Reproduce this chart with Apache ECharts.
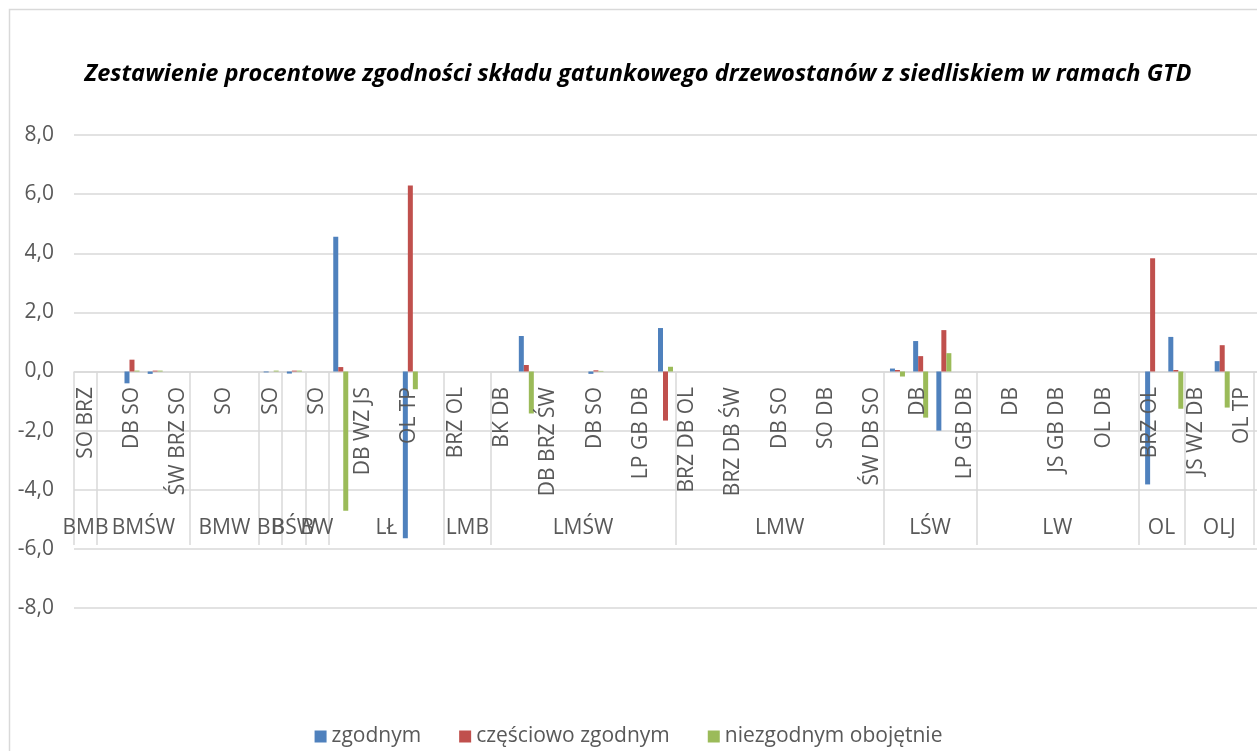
<!DOCTYPE html>
<html>
<head>
<meta charset="utf-8">
<script src="https://cdn.jsdelivr.net/npm/echarts@6/dist/echarts.min.js"></script>
<style>
  html, body { margin: 0; padding: 0; background: #fff; overflow: hidden; }
  #chart { width: 1257px; height: 751px; }
</style>
</head>
<body>
<div id="chart"></div>
<script>
// gatunki (poziom 2) - tylko co drugi opis jest widoczny na osi
const categories = [
  'SO BRZ', '', 'DB SO', '', 'ŚW BRZ SO', '', 'SO', '', 'SO', '', 'SO',
  '', 'DB WZ JS', '', 'OL TP', '', 'BRZ OL', '', 'BK DB', '', 'DB BRZ ŚW',
  '', 'DB SO', '', 'LP GB DB', '', 'BRZ DB OL', '', 'BRZ DB ŚW', '', 'DB SO',
  '', 'SO DB', '', 'ŚW DB SO', '', 'DB', '', 'LP GB DB', '', 'DB',
  '', 'JS GB DB', '', 'OL DB', '', 'BRZ OL', '', 'JS WZ DB', '', 'OL TP'
]

// typy siedliskowe (poziom 1) i liczba kategorii w każdym
const groups = ['BMB', 'BMŚW', 'BMW', 'BB', 'BŚW', 'BW', 'LŁ', 'LMB', 'LMŚW', 'LMW', 'LŚW', 'LW', 'OL', 'OLJ']
const groupSizes = [1, 4, 3, 1, 1, 1, 5, 2, 8, 9, 4, 7, 2, 3]

const seriesNames = ['zgodnym', 'częściowo zgodnym', 'niezgodnym obojętnie']

const zgodnym = [
  0, 0, -0.4, -0.08, 0, 0, 0, 0, -0.03, -0.07, 0,
  4.56, 0, 0, -5.64, 0, 0, 0, 0, 1.2, 0,
  0, -0.08, 0, 0, 1.47, 0, 0, 0, 0, 0,
  0, 0, 0, 0, 0.1, 1.03, -2.0, 0, 0, 0,
  0, 0, 0, 0, 0, -3.82, 1.17, 0, 0.35, 0
]
const czesciowo = [
  0, 0, 0.4, 0.03, 0, 0, 0, 0, 0, 0.03, 0,
  0.15, 0, 0, 6.29, 0, 0, 0, 0, 0.22, 0,
  0, 0.04, 0, 0, -1.66, 0, 0, 0, 0, 0,
  0, 0, 0, 0, 0.05, 0.52, 1.4, 0, 0, 0,
  0, 0, 0, 0, 0, 3.83, 0.05, 0, 0.89, 0
]
const niezgodnym = [
  0, 0, 0.03, 0.03, 0, 0, 0, 0, 0.03, 0.03, 0,
  -4.71, 0, 0, -0.6, 0, 0, 0, 0, -1.42, 0,
  0, 0.02, 0, 0, 0.16, 0, 0, 0, 0, 0,
  0, 0, 0, 0, -0.17, -1.56, 0.62, 0, 0, 0,
  0, 0, 0, 0, 0, 0, -1.26, 0, -1.22, 0
]

const colors = ['#4F81BD', '#C0504D', '#9BBB59']
const font = "'Open Sans', sans-serif"

// oś grup: pozycje co pół kategorii, granice grup jako kreski
const slots = new Array(categories.length * 2 + 1).fill('')
const boundaries = new Set([0])
let pos = 0
groups.forEach((g, i) => {
  slots[pos * 2 + groupSizes[i]] = g
  pos += groupSizes[i]
  boundaries.add(pos * 2)
})

const chart = echarts.init(document.getElementById('chart'))

chart.setOption({
  animation: false,
  backgroundColor: '#fff',
  color: colors,
  title: {
    text: 'Zestawienie procentowe zgodności składu gatunkowego drzewostanów z siedliskiem w ramach GTD',
    left: 633,
    top: 57,
    textAlign: 'center',
    textStyle: { fontFamily: font, fontSize: 23.6, fontWeight: 'bold', fontStyle: 'italic', color: '#000' },
  },
  legend: {
    data: seriesNames,
    left: 'center',
    top: 721,
    icon: 'rect',
    itemWidth: 12,
    itemHeight: 12,
    itemGap: 38,
    textStyle: { fontFamily: font, fontSize: 21, color: '#595959' },
  },
  grid: [
    { left: 74, top: 135, width: 1188, height: 473 },
    // obszar opisów kategorii pod linią zera
    { left: 74, top: 372, width: 1188, height: 173 },
  ],
  xAxis: [
    {
      type: 'category',
      data: categories,
      gridIndex: 0,
      axisLine: { show: true, onZero: true, lineStyle: { color: '#d9d9d9', width: 1.5 } },
      axisTick: { show: false },
      axisLabel: { show: false },
    },
    {
      type: 'category',
      data: categories,
      gridIndex: 1,
      position: 'top',
      z: 5,
      axisLine: { show: false },
      axisTick: { show: false },
      axisLabel: {
        interval: 1,
        inside: true,
        rotate: 90,
        margin: 15,
        fontFamily: font,
        fontSize: 21,
        color: '#595959',
      },
    },
    {
      type: 'category',
      data: slots,
      gridIndex: 1,
      boundaryGap: false,
      position: 'bottom',
      z: 5,
      axisLine: { show: false },
      axisTick: {
        show: true,
        inside: true,
        length: 173,
        interval: (idx) => boundaries.has(idx),
        lineStyle: { color: '#d9d9d9', width: 1.5 },
      },
      axisLabel: {
        interval: 0,
        inside: true,
        margin: 6,
        fontFamily: font,
        fontSize: 21,
        color: '#595959',
      },
    },
  ],
  yAxis: [
    {
      type: 'value',
      gridIndex: 0,
      min: -8,
      max: 8,
      interval: 2,
      axisLine: { show: false },
      axisTick: { show: false },
      splitLine: { lineStyle: { color: '#d9d9d9', width: 1.5 } },
      axisLabel: {
        margin: 20,
        fontFamily: font,
        fontSize: 21,
        color: '#595959',
        formatter: (v) => v.toFixed(1).replace('.', ','),
      },
    },
    { type: 'value', gridIndex: 1, show: false },
  ],
  graphic: [
    {
      type: 'rect',
      shape: { x: 9.5, y: 9.5, width: 1400, height: 900 },
      style: { fill: 'none', stroke: '#d9d9d9', lineWidth: 1.5 },
      silent: true,
      z: -1,
    },
  ],
  series: [
    { name: seriesNames[0], type: 'bar', data: zgodnym, barWidth: 5, barGap: '0%' },
    { name: seriesNames[1], type: 'bar', data: czesciowo, barWidth: 5, barGap: '0%' },
    { name: seriesNames[2], type: 'bar', data: niezgodnym, barWidth: 5, barGap: '0%' },
  ],
})
</script>
</body>
</html>
